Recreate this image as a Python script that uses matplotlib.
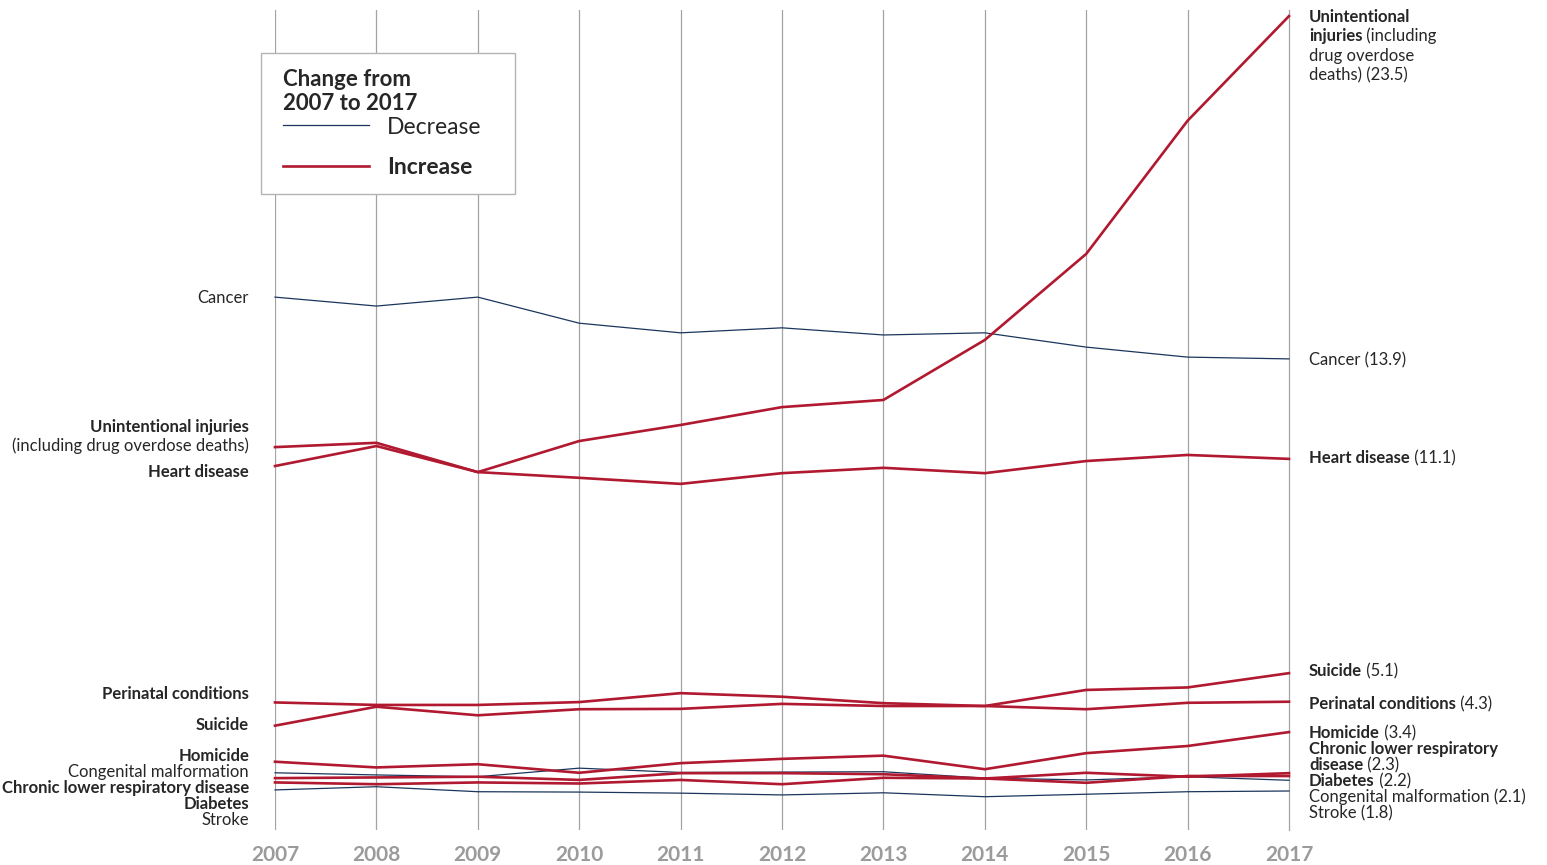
import matplotlib.pyplot as plt
from matplotlib.patches import Rectangle

plt.rcParams['font.family'] = ['Lato', 'DejaVu Sans']

#///////////////////////////////////////////////////////////////
# data
#///////////////////////////////////////////////////////////////
years = [2007, 2008, 2009, 2010, 2011, 2012, 2013, 2014, 2015, 2016, 2017]

cancer = [15.63, 15.38, 15.63, 14.90, 14.63, 14.77, 14.57, 14.63, 14.23, 13.95, 13.9]
unintentional = [11.43, 11.55, 10.73, 11.60, 12.05, 12.55, 12.75, 14.43, 16.84, 20.57, 23.5]
heart = [10.90, 11.46, 10.73, 10.57, 10.40, 10.70, 10.85, 10.70, 11.04, 11.21, 11.1]
perinatal = [4.28, 4.21, 4.21, 4.29, 4.54, 4.44, 4.26, 4.18, 4.09, 4.27, 4.3]
suicide = [3.63, 4.16, 3.92, 4.09, 4.10, 4.24, 4.18, 4.18, 4.63, 4.70, 5.1]
homicide = [2.62, 2.46, 2.55, 2.31, 2.58, 2.70, 2.79, 2.41, 2.86, 3.06, 3.45]
congenital = [2.31, 2.25, 2.20, 2.44, 2.32, 2.33, 2.34, 2.16, 2.11, 2.20, 2.1]
chronic = [2.16, 2.18, 2.20, 2.11, 2.30, 2.30, 2.27, 2.15, 2.31, 2.20, 2.3]
diabetes = [2.04, 1.99, 2.04, 2.01, 2.11, 1.99, 2.17, 2.15, 2.03, 2.22, 2.22]
stroke = [1.83, 1.92, 1.78, 1.77, 1.74, 1.69, 1.75, 1.64, 1.71, 1.78, 1.8]

decrease = [cancer, congenital, stroke]
increase = [unintentional, heart, perinatal, suicide, homicide, chronic, diabetes]

BLUE = '#1b365d'
RED = '#b0192f'
TXT = '#262626'
GRID = '#a3a3a3'
FS = 12

W, H = 1547, 865
fig = plt.figure(figsize=(W / 100, H / 100), dpi=100)
ax = fig.add_axes([275 / W, 35 / H, (1289 - 275) / W, 820 / H])

for s in decrease:
    ax.plot(years, s, color=BLUE, lw=0.9, zorder=3, clip_on=False)
for s in increase:
    ax.plot(years, s, color=RED, lw=1.9, zorder=4, clip_on=False)

ax.set_xlim(2007, 2017)
ax.set_ylim(0.708, 23.67)
ax.set_yticks([])
ax.set_xticks(years)
ax.set_xticklabels([str(y) for y in years], fontsize=15, fontweight='bold', color='#9b9b9b')
ax.tick_params(axis='x', length=0, pad=11)
ax.xaxis.grid(True, color=GRID, lw=0.9, zorder=1)
ax.xaxis.get_gridlines()[-1].set_clip_on(False)
for sp in ax.spines.values():
    sp.set_visible(False)


def fx(x):
    return x / W


def fy(y):
    return 1 - y / H


# left labels (2007 side)
left = [
    ('Cancer', 298, 'normal'),
    ('Unintentional injuries', 427, 'bold'),
    ('(including drug overdose deaths)', 446, 'normal'),
    ('Heart disease', 472, 'bold'),
    ('Perinatal conditions', 694, 'bold'),
    ('Suicide', 725, 'bold'),
    ('Homicide', 756, 'bold'),
    ('Congenital malformation', 772, 'normal'),
    ('Chronic lower respiratory disease', 788, 'bold'),
    ('Diabetes', 804, 'bold'),
    ('Stroke', 820, 'normal'),
]
for txt, y, w in left:
    fig.text(fx(249), fy(y), txt, ha='right', va='center', fontsize=FS,
             fontweight=w, color=TXT)


# right labels (2017 side): bold part followed by normal part
def right_label(y, bold, normal):
    if bold:
        t = fig.text(fx(1309), fy(y), bold, ha='left', va='center', fontsize=FS,
                     fontweight='bold', color=TXT)
        if normal:
            ax.annotate(normal, xy=(1, 0), xycoords=t, ha='left', va='bottom',
                        fontsize=FS, color=TXT, annotation_clip=False)
    else:
        fig.text(fx(1309), fy(y), normal, ha='left', va='center', fontsize=FS, color=TXT)


right = [
    (17, 'Unintentional', ''),
    (36, 'injuries', ' (including'),
    (56, '', 'drug overdose'),
    (75, '', 'deaths) (23.5)'),
    (360, '', 'Cancer (13.9)'),
    (458, 'Heart disease', ' (11.1)'),
    (671, 'Suicide', ' (5.1)'),
    (704, 'Perinatal conditions', ' (4.3)'),
    (733, 'Homicide', ' (3.4)'),
    (749, 'Chronic lower respiratory', ''),
    (765, 'disease', ' (2.3)'),
    (781, 'Diabetes', ' (2.2)'),
    (797, '', 'Congenital malformation (2.1)'),
    (813, '', 'Stroke (1.8)'),
]
for y, b, n in right:
    right_label(y, b, n)

# legend box
box = Rectangle((fx(261), fy(194)), fx(515) - fx(261), fy(53) - fy(194),
                transform=fig.transFigure, facecolor='white', edgecolor='#b3b3b3',
                lw=1, zorder=10)
fig.patches.append(box)
fig.text(fx(283), fy(79), 'Change from', ha='left', va='center',
         fontsize=16, fontweight='bold', color=TXT, zorder=11)
fig.text(fx(283), fy(104), '2007 to 2017', ha='left', va='center',
         fontsize=16, fontweight='bold', color=TXT, zorder=11)
fig.add_artist(plt.Line2D([fx(283), fx(369)], [fy(125), fy(125)], color=BLUE, lw=0.9, zorder=11))
fig.add_artist(plt.Line2D([fx(283), fx(369)], [fy(166), fy(166)], color=RED, lw=1.9, zorder=11))
fig.text(fx(387), fy(127), 'Decrease', ha='left', va='center', fontsize=16.5, color=TXT, zorder=11)
fig.text(fx(387), fy(167), 'Increase', ha='left', va='center', fontsize=16.5,
         fontweight='bold', color=TXT, zorder=11)

plt.savefig('out.png', dpi=100)
